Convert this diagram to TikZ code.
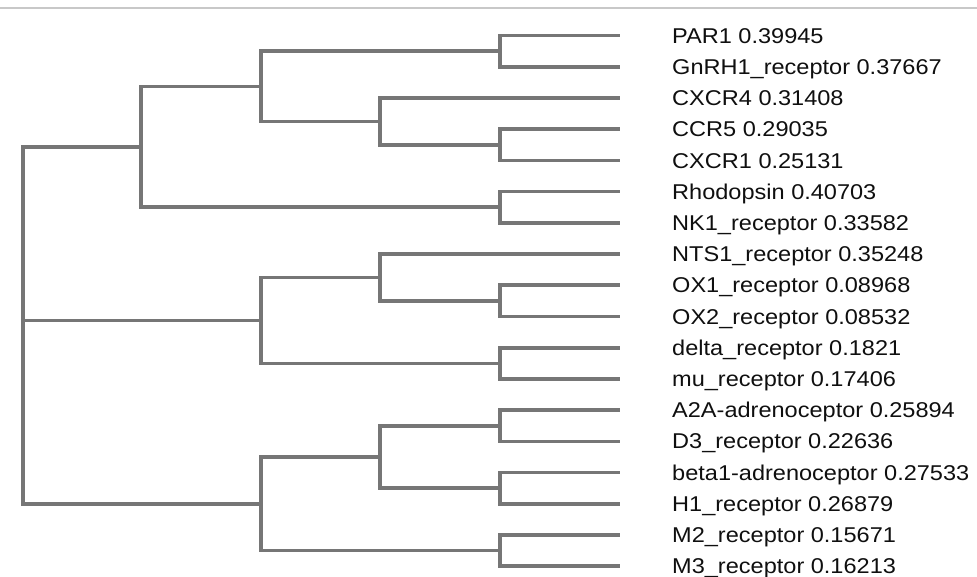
\documentclass[tikz,border=0pt]{standalone}
\usepackage{fontspec}
\newfontfamily\labfont{Liberation Sans}[FakeStretch=1.1]
\definecolor{treegray}{RGB}{118,118,118}
\definecolor{rulegray}{RGB}{200,200,200}
\definecolor{labcol}{RGB}{15,15,15}
\begin{document}
\begin{tikzpicture}[x=1pt,y=-1pt,
  branch/.style={draw=treegray,line width=3.6pt},
  lab/.style={anchor=base west,inner sep=0pt,text=labcol,font=\labfont\fontsize{21.4}{24}\selectfont}]
\useasboundingbox (0,0) rectangle (977,577);
\draw[rulegray,line width=1.5pt] (0,8) -- (977,8);
% leaf ends
\foreach \i/\n in {0/l0,1/l1,2/l2,3/l3,4/l4,5/l5,6/l6,7/l7,8/l8,9/l9,10/l10,11/l11,12/l12,13/l13,14/l14,15/l15,16/l16,17/l17}{
  \coordinate (\n) at (620,{35.7+31.2*\i});
}
% labels
\node[lab] (t0) at ([xshift=52pt,yshift=-7.6pt]l0) {PAR1 0.39945};
\node[lab] (t1) at ([xshift=52pt,yshift=-7.6pt]l1) {GnRH1\_receptor 0.37667};
\node[lab] (t2) at ([xshift=52pt,yshift=-7.6pt]l2) {CXCR4 0.31408};
\node[lab] (t3) at ([xshift=52pt,yshift=-7.6pt]l3) {CCR5 0.29035};
\node[lab] (t4) at ([xshift=52pt,yshift=-7.6pt]l4) {CXCR1 0.25131};
\node[lab] (t5) at ([xshift=52pt,yshift=-7.6pt]l5) {Rhodopsin 0.40703};
\node[lab] (t6) at ([xshift=52pt,yshift=-7.6pt]l6) {NK1\_receptor 0.33582};
\node[lab] (t7) at ([xshift=52pt,yshift=-7.6pt]l7) {NTS1\_receptor 0.35248};
\node[lab] (t8) at ([xshift=52pt,yshift=-7.6pt]l8) {OX1\_receptor 0.08968};
\node[lab] (t9) at ([xshift=52pt,yshift=-7.6pt]l9) {OX2\_receptor 0.08532};
\node[lab] (t10) at ([xshift=52pt,yshift=-7.6pt]l10) {delta\_receptor 0.1821};
\node[lab] (t11) at ([xshift=52pt,yshift=-7.6pt]l11) {mu\_receptor 0.17406};
\node[lab] (t12) at ([xshift=52pt,yshift=-7.6pt]l12) {A2A-adrenoceptor 0.25894};
\node[lab] (t13) at ([xshift=52pt,yshift=-7.6pt]l13) {D3\_receptor 0.22636};
\node[lab] (t14) at ([xshift=52pt,yshift=-7.6pt]l14) {beta1-adrenoceptor 0.27533};
\node[lab] (t15) at ([xshift=52pt,yshift=-7.6pt]l15) {H1\_receptor 0.26879};
\node[lab] (t16) at ([xshift=52pt,yshift=-7.6pt]l16) {M2\_receptor 0.15671};
\node[lab] (t17) at ([xshift=52pt,yshift=-7.6pt]l17) {M3\_receptor 0.16213};
% internal nodes
\coordinate (n01) at (500,51.3);
\coordinate (n34) at (500,144.9);
\coordinate (n56) at (500,207.3);
\coordinate (n89) at (500,300.9);
\coordinate (n1011) at (500,363.3);
\coordinate (n1213) at (500,425.7);
\coordinate (n1415) at (500,488.1);
\coordinate (n1617) at (500,550.5);
\coordinate (nCX) at (380,121.5);
\coordinate (nNT) at (380,277.5);
\coordinate (nAD) at (380,456.9);
\coordinate (nB) at (261,86.4);
\coordinate (nC) at (261,320.4);
\coordinate (nD) at (261,503.7);
\coordinate (nE) at (141,146.85);
\coordinate (root) at (23,320.4);
% branches
\draw[branch] (n01) |- (l0); \draw[branch] (n01) |- (l1);
\draw[branch] (n34) |- (l3); \draw[branch] (n34) |- (l4);
\draw[branch] (n56) |- (l5); \draw[branch] (n56) |- (l6);
\draw[branch] (n89) |- (l8); \draw[branch] (n89) |- (l9);
\draw[branch] (n1011) |- (l10); \draw[branch] (n1011) |- (l11);
\draw[branch] (n1213) |- (l12); \draw[branch] (n1213) |- (l13);
\draw[branch] (n1415) |- (l14); \draw[branch] (n1415) |- (l15);
\draw[branch] (n1617) |- (l16); \draw[branch] (n1617) |- (l17);
\draw[branch] (nCX) |- (l2); \draw[branch] (nCX) |- (n34);
\draw[branch] (nNT) |- (l7); \draw[branch] (nNT) |- (n89);
\draw[branch] (nAD) |- (n1213); \draw[branch] (nAD) |- (n1415);
\draw[branch] (nB) |- (n01); \draw[branch] (nB) |- (nCX);
\draw[branch] (nC) |- (nNT); \draw[branch] (nC) |- (n1011);
\draw[branch] (nD) |- (nAD); \draw[branch] (nD) |- (n1617);
\draw[branch] (nE) |- (nB); \draw[branch] (nE) |- (n56);
\draw[branch] (root) |- (nE); \draw[branch] (root) |- (nC); \draw[branch] (root) |- (nD);
\end{tikzpicture}
\end{document}
